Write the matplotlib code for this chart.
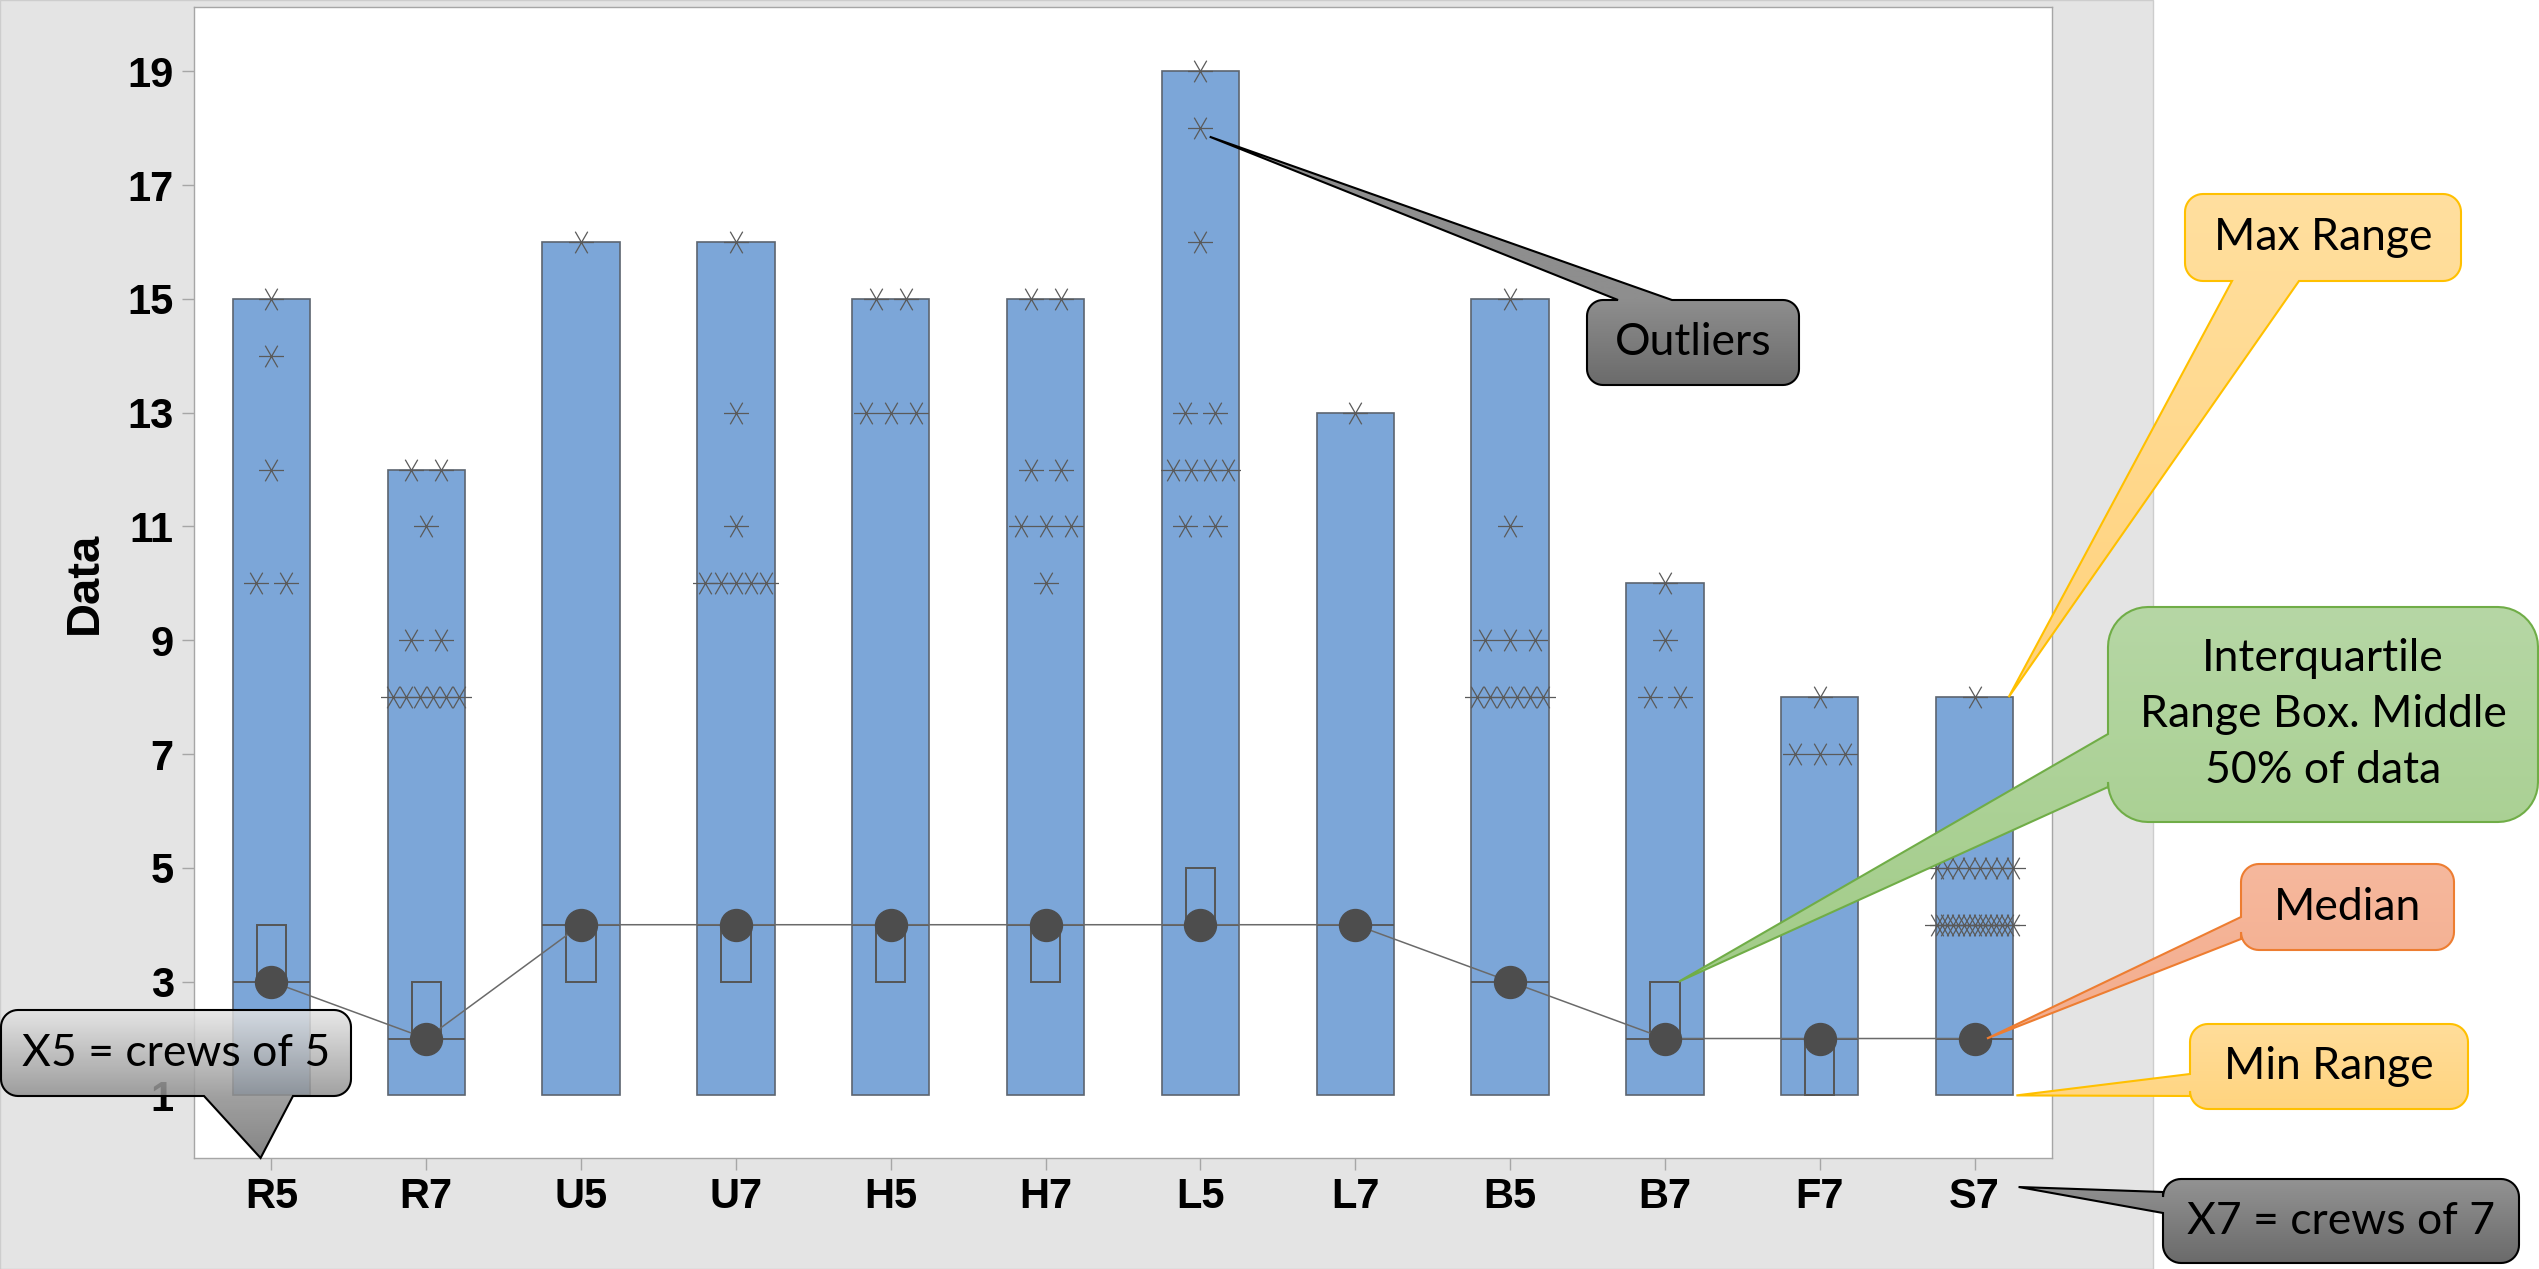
import numpy as np
import matplotlib
matplotlib.use("Agg")
import matplotlib.pyplot as plt
from matplotlib.path import Path
from matplotlib.patches import Polygon, Rectangle
from matplotlib.colors import LinearSegmentedColormap

# crew groups and their range / quartile summary
groups  = ["R5", "R7", "U5", "U7", "H5", "H7", "L5", "L7", "B5", "B7", "F7", "S7"]
mins    = [1, 1, 1, 1, 1, 1, 1, 1, 1, 1, 1, 1]
maxs    = [15, 12, 16, 16, 15, 15, 19, 13, 15, 10, 8, 8]
q1s     = [3, 2, 3, 3, 3, 3, 4, 4, 3, 2, 1, 2]
q3s     = [4, 3, 4, 4, 4, 4, 5, 4, 3, 3, 2, 2]
medians = [3, 2, 4, 4, 4, 4, 4, 4, 3, 2, 2, 2]

# individual values drawn as asterisks (repeats = stacked side by side)
outliers = [
    [15, 14, 12, 10, 10],
    [12, 12, 11, 9, 9, 8, 8, 8, 8, 8, 8],
    [16],
    [16, 13, 11, 10, 10, 10, 10, 10],
    [15, 15, 13, 13, 13],
    [15, 15, 12, 12, 11, 11, 11, 10],
    [19, 18, 16, 13, 13, 12, 12, 12, 12, 11, 11],
    [13],
    [15, 11, 9, 9, 9, 8, 8, 8, 8, 8, 8],
    [10, 9, 8, 8],
    [8, 7, 7, 7],
    [8] + [5] * 8 + [4] * 15,
]

W, H = 2539, 1269
fig = plt.figure(figsize=(W / 100, H / 100), dpi=100)
fig.patch.set_facecolor("white")
fig.add_artist(Rectangle((0, 0), 2153 / W, 1, transform=fig.transFigure,
                         fc="#e4e4e4", ec="#cdcdcd", lw=1, zorder=-2))

ax = fig.add_axes([194 / W, 1 - 1158 / H, (2052 - 194) / W, (1158 - 7) / H])
ax.set_facecolor("white")
x = np.arange(len(groups))

ax.bar(x, np.array(maxs) - np.array(mins), bottom=mins, width=0.5,
       color="#7ca6d8", edgecolor="#5c6570", lw=1.2, zorder=1)
ax.bar(x, np.array(q3s) - np.array(q1s), bottom=q1s, width=0.19,
       fill=False, edgecolor="#555555", lw=1.4, zorder=2)
ax.hlines(medians, x - 0.25, x + 0.25, colors="#555555", lw=1.3, zorder=2)
ax.plot(x, medians, color="#6a6a6a", lw=1.1, zorder=3)

# asterisk marker with horizontal bar
star = Path([(-1, 0), (1, 0), (-0.5, -0.866), (0.5, 0.866), (-0.5, 0.866), (0.5, -0.866)],
            [Path.MOVETO, Path.LINETO] * 3)
px_unit = 1858 / 12.0


def spread(n):
    if n == 1:
        return np.array([0.0])
    span = min(30 * (n - 1), 50 + 5.5 * (n - 3), 76)
    return np.linspace(-span / 2, span / 2, n) / px_unit


for i, vals in enumerate(outliers):
    for v in sorted(set(vals)):
        n = vals.count(v)
        ax.plot(i + spread(n), [v] * n, ls="none", marker=star, ms=18,
                mec="#5a5a5a", mew=0.9, zorder=3)

ax.plot(x, medians, "o", ms=23, color="#4d4d4d", zorder=5)

ax.set_xlim(-0.5, 11.5)
ax.set_ylim(-0.1, 20.13)
ax.set_yticks(range(1, 20, 2))
ax.set_xticks(x, groups)
lab_font = ["Liberation Sans", "DejaVu Sans"]
for lab in ax.get_xticklabels() + ax.get_yticklabels():
    lab.set_family(lab_font)
    lab.set_fontweight("bold")
    lab.set_fontsize(30)
ax.tick_params(axis="both", length=8.6, width=1, color="#a6a6a6")
ax.tick_params(axis="x", pad=5)
ax.tick_params(axis="y", pad=6)
for s in ax.spines.values():
    s.set_color("#a6a6a6")
    s.set_linewidth(1)
ax.set_ylabel("Data", fontsize=34, fontweight="bold", family=lab_font)
ax.yaxis.set_label_coords(-0.047, 0.5)

# overlay in image pixels (y down) for the callouts
ov = fig.add_axes([0, 0, 1, 1], zorder=10)
ov.set_xlim(0, W)
ov.set_ylim(H, 0)
ov.axis("off")
ov.set_autoscale_on(False)


def to_px(xd, yd):
    return tuple(ov.transData.inverted().transform(ax.transData.transform((xd, yd))))


def arc(cx, cy, r, a0, a1):
    t = np.linspace(a0, a1, 12)
    return [(cx + r * np.cos(a), cy + r * np.sin(a)) for a in t]


def callout(text, box, r, side, base, tip, stops, ec, fs=32, alpha=1.0, lw=1.5):
    x0, y0, x1, y1 = box
    b0, b1 = min(base), max(base)
    pts = [(x0 + r, y0)]
    if side == "top":
        pts += [(b0, y0), tip, (b1, y0)]
    pts += [(x1 - r, y0)] + arc(x1 - r, y0 + r, r, -np.pi / 2, 0)
    if side == "right":
        pts += [(x1, b0), tip, (x1, b1)]
    pts += arc(x1 - r, y1 - r, r, 0, np.pi / 2)
    if side == "bottom":
        pts += [(b1, y1), tip, (b0, y1)]
    pts += arc(x0 + r, y1 - r, r, np.pi / 2, np.pi)
    if side == "left":
        pts += [(x0, b1), tip, (x0, b0)]
    pts += arc(x0 + r, y0 + r, r, np.pi, 1.5 * np.pi)
    pts = np.array(pts)
    clip = Polygon(pts, closed=True, fc="none", ec="none", transform=ov.transData)
    ov.add_patch(clip)
    cmap = LinearSegmentedColormap.from_list("g", stops)
    ymin, ymax = pts[:, 1].min(), pts[:, 1].max()
    im = ov.imshow(np.linspace(0, 1, 256).reshape(-1, 1), cmap=cmap, aspect="auto",
                   extent=(pts[:, 0].min(), pts[:, 0].max(), ymax, ymin),
                   origin="upper", alpha=alpha, zorder=10)
    im.set_clip_path(clip)
    ov.add_patch(Polygon(pts, closed=True, fc="none", ec=ec, lw=lw, zorder=11))
    ov.text((x0 + x1) / 2, (y0 + y1) / 2, text, ha="center", va="center",
            fontsize=fs, family=["Lato", "DejaVu Sans"], color="black",
            linespacing=1.45, zorder=12)


grey_tip = [(0, "#8e8e8e"), (0.657, "#8e8e8e"), (1, "#6b6b6b")]
callout("Outliers", (1587, 300, 1799, 385), 16, "top", (1618, 1672),
        to_px(6.06, 17.85), grey_tip, "black")

gold = [(0, "#ffdf9f"), (1, "#ffd27c")]
callout("Max Range", (2185, 194, 2461, 281), 18, "bottom", (2232, 2299),
        to_px(11.22, 8.0), gold, "#ffc000")

green = [(0, "#b6d7a5"), (1, "#a2cc88")]
callout("Interquartile\nRange Box. Middle\n50% of data", (2108, 607, 2538, 822), 40,
        "left", (734, 787), to_px(9.09, 3.0), green, "#70ad47")

salmon = [(0, "#f6b89d"), (1, "#f3ac8c")]
callout("Median", (2241, 864, 2454, 950), 18, "left", (917, 939),
        to_px(11.08, 2.0), salmon, "#ed7d31")

callout("Min Range", (2190, 1024, 2468, 1109), 18, "left", (1074, 1096),
        to_px(11.27, 1.0), [(0, "#ffdd9a"), (1, "#ffd47f")], "#ffc000")

s7x, _ = to_px(11, 0)
callout("X7 = crews of 7", (2163, 1179, 2519, 1263), 18, "left", (1192, 1213),
        (s7x + 44, 1187), [(0, "#939393"), (1, "#6a6a6a")], "black")

callout("X5 = crews of 5", (1, 1010, 351, 1096), 17, "bottom", (204, 293),
        to_px(-0.07, -0.1), [(0, "#e4e4e4"), (0.59, "#8f8f8f"), (1, "#6f6f6f")],
        "black", alpha=0.85)

fig.savefig("out.png", dpi=100)
